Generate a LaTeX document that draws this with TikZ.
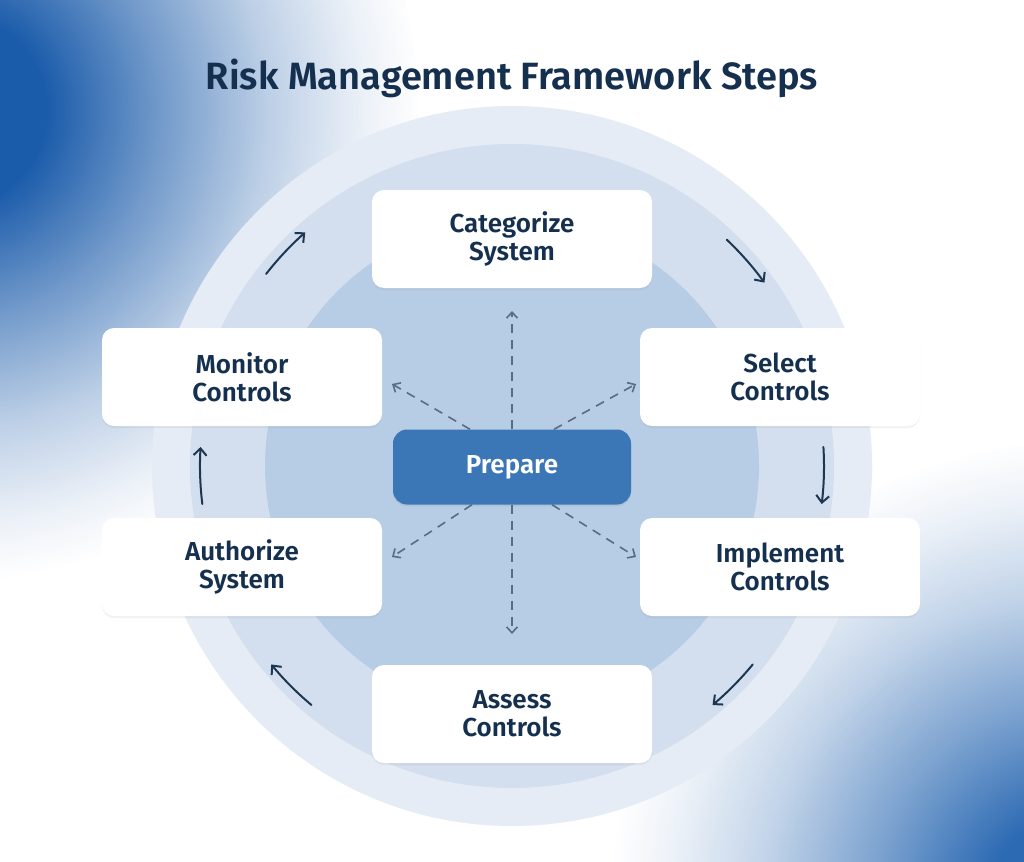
\documentclass[tikz,border=0pt]{standalone}
\usepackage{fontspec}
\setmainfont{Fira Sans}
\newfontfamily\semib{Fira Sans SemiBold}
\usetikzlibrary{arrows.meta,shadows,fadings,calc}
\definecolor{navy}{HTML}{15304F}
\definecolor{ringA}{HTML}{E5ECF5}
\definecolor{ringB}{HTML}{D3DFEE}
\definecolor{ringC}{HTML}{B7CCE5}
\definecolor{prepblue}{HTML}{3B77B7}
\definecolor{blobA}{HTML}{1A5BAA}
\definecolor{blobB}{HTML}{2C6AB3}
\definecolor{dashcol}{HTML}{5A6C82}
\definecolor{cyccol}{HTML}{1D3652}
\pgfdeclareradialshading{blobshade}{\pgfpoint{0bp}{0bp}}{color(0bp)=(white); color(5bp)=(white); color(11bp)=(white!62!black); color(17bp)=(white!28!black); color(22bp)=(white!8!black); color(25bp)=(black); color(50bp)=(black)}
\pgfdeclarefading{blobfade}{\pgfuseshading{blobshade}}
\begin{document}
\begin{tikzpicture}[x=1pt,y=1pt,
  stepbox/.style={fill=white, rounded corners=12pt, minimum width=280pt, minimum height=98pt,
    align=center, text=navy, font=\semib\fontsize{26}{28}\selectfont,
    drop shadow={opacity=0.10, shadow xshift=0pt, shadow yshift=-2pt}},
  prepbox/.style={fill=prepblue, rounded corners=14pt, minimum width=238pt, minimum height=75pt,
    text=white, font=\semib\fontsize{26}{28}\selectfont,
    drop shadow={opacity=0.12, shadow xshift=0pt, shadow yshift=-2pt}},
  dasharrow/.style={draw=dashcol, line width=1.6pt, dash pattern=on 9pt off 7pt,
    -{Straight Barb[length=6pt,width=11pt,line width=1.6pt]}},
  cycarrow/.style={draw=cyccol, line width=2pt, line cap=round,
    -{Straight Barb[length=7pt,width=13pt,line width=2pt]}}]
\useasboundingbox (0,0) rectangle (1024,-861);
\fill[white] (0,0) rectangle (1024,-861);
\begin{scope}
  \clip (0,0) rectangle (1024,-861);
  \fill[blobA, path fading=blobfade] (-50,-110) circle (470);
  \fill[blobB, path fading=blobfade] (1080,-910) circle (470);
\end{scope}
% rings
\coordinate (C) at (512,-466);
\fill[ringA] (C) circle (360);
\fill[ringB] (C) circle (322);
\fill[ringC] (C) circle (247);
% title
\node[font=\semib\fontsize{38}{42}\selectfont, text=navy, anchor=base] (title) at (512,-90) {Risk Management Framework Steps};
% step boxes
\node[stepbox] (cat) at (512,-239) {Categorize\\System};
\node[stepbox] (sel) at (780,-377) {Select\\Controls};
\node[stepbox] (imp) at (780,-567) {Implement\\Controls};
\node[stepbox] (ass) at (512,-714) {Assess\\Controls};
\node[stepbox] (aut) at (242,-567) {Authorize\\System};
\node[stepbox] (mon) at (242,-377) {Monitor\\Controls};
\node[prepbox] (prep) at (512,-467) {Prepare};
% dashed arrows from Prepare
\coordinate (tU) at (512,-311);
\coordinate (tD) at (512,-634);
\coordinate (tUL) at (392,-384);
\coordinate (tUR) at (636,-384);
\coordinate (tDL) at (392,-557);
\coordinate (tDR) at (636,-557);
\draw[dasharrow] (prep.north) -- (tU);
\draw[dasharrow] (prep.south) -- (tD);
\draw[dasharrow] ($(prep.north)+(-42,0)$) -- (tUL);
\draw[dasharrow] ($(prep.north)+(42,0)$) -- (tUR);
\draw[dasharrow] ($(prep.south)+(-40,0)$) -- (tDL);
\draw[dasharrow] ($(prep.south)+(40,0)$) -- (tDR);
% cycle arrows
\path (C) ++(142:312) coordinate (a1);
\path (C) ++(46.5:312) coordinate (a2);
\path (C) ++(3.5:312) coordinate (a3);
\path (C) ++(-39.5:312) coordinate (a4);
\path (C) ++(230:312) coordinate (a5);
\path (C) ++(187:312) coordinate (a6);
\draw[cycarrow] (a1) arc[start angle=142, end angle=131.5, radius=312];
\draw[cycarrow] (a2) arc[start angle=46.5, end angle=36, radius=312];
\draw[cycarrow] (a3) arc[start angle=3.5, end angle=-7, radius=312];
\draw[cycarrow] (a4) arc[start angle=-39.5, end angle=-50, radius=312];
\draw[cycarrow] (a5) arc[start angle=230, end angle=219.5, radius=312];
\draw[cycarrow] (a6) arc[start angle=187, end angle=176.5, radius=312];
\end{tikzpicture}
\end{document}
